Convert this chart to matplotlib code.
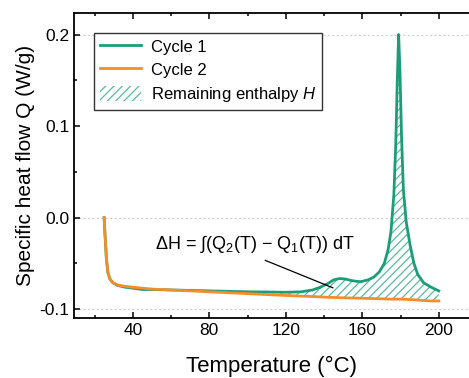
import numpy as np
import matplotlib
matplotlib.use("Agg")
import matplotlib.pyplot as plt
from matplotlib.ticker import MultipleLocator, FormatStrFormatter

plt.rcParams['font.family'] = ['Liberation Sans', 'DejaVu Sans']
plt.rcParams['mathtext.fontset'] = 'custom'
plt.rcParams['mathtext.rm'] = 'Liberation Sans'
plt.rcParams['mathtext.it'] = 'Liberation Sans:italic'
plt.rcParams['axes.unicode_minus'] = False
plt.rcParams['hatch.linewidth'] = 0.9

# temperature grid (°C) shared by both cycles
temp = [25.0, 25.5, 26.2, 27.0, 28.0, 29.5, 32, 36, 40, 45, 50, 60, 70, 80, 90,
        100, 110, 120, 128, 134, 138, 142, 145, 148, 151, 155, 159, 163, 166,
        169, 171.5, 173.5, 175, 176.5, 177.5, 178.3, 179.0, 179.7, 180.5, 181.5,
        183, 185, 187, 189, 192, 196, 200]

cycle1 = [0.000, -0.020, -0.045, -0.060, -0.067, -0.071, -0.074, -0.076, -0.077,
          -0.0785, -0.0785, -0.079, -0.0795, -0.080, -0.0805, -0.081, -0.0812,
          -0.0815, -0.081, -0.079, -0.076, -0.072, -0.068, -0.0665, -0.067,
          -0.069, -0.070, -0.068, -0.065, -0.059, -0.050, -0.035, -0.015, 0.025,
          0.080, 0.150, 0.200, 0.160, 0.090, 0.030, -0.005, -0.030, -0.050,
          -0.062, -0.071, -0.076, -0.080]

cycle2 = [0.000, -0.020, -0.045, -0.060, -0.067, -0.071, -0.0735, -0.075, -0.076,
          -0.077, -0.078, -0.079, -0.080, -0.081, -0.082, -0.083, -0.084, -0.085,
          -0.0857, -0.0862, -0.0866, -0.087, -0.0872, -0.0874, -0.0876, -0.0878,
          -0.088, -0.0882, -0.0884, -0.0886, -0.0888, -0.0889, -0.089, -0.089,
          -0.089, -0.089, -0.089, -0.089, -0.089, -0.0892, -0.0893, -0.0895,
          -0.0897, -0.090, -0.0905, -0.091, -0.091]

green = '#1b9e77'
orange = '#f28e2b'

T = np.array(temp)
q1 = np.array(cycle1)
q2 = np.array(cycle2)

fig = plt.figure(figsize=(4.69, 3.78), dpi=100)
ax = fig.add_axes([0.158, 0.159, 0.842, 0.807])

for yv in [0.2, 0.0, -0.1]:
    ax.axhline(yv, color='#d0d0d0', lw=0.8, ls=(0, (2, 2)), zorder=0)

ax.fill_between(T, q2, q1, where=T >= 120, interpolate=True, facecolor='none',
                edgecolor='#5fb99f', hatch='////', linewidth=0,
                label='Remaining enthalpy $H$')
ax.plot(T, q1, color=green, lw=2.0, label='Cycle 1')
ax.plot(T, q2, color=orange, lw=2.0, label='Cycle 2')

# annotation: formula plus leader line into the hatched area
ax.text(104, -0.0285, 'ΔH = ∫(Q$_2$(T) − Q$_1$(T)) dT', ha='center',
        va='center', fontsize=13)
ax.annotate('', xy=(144.7, -0.0767), xytext=(109.2, -0.0466),
            arrowprops=dict(arrowstyle='-', color='black', lw=0.9,
                            shrinkA=0, shrinkB=0))

ax.set_xlim(9.3, 215.8)
ax.set_ylim(-0.1095, 0.2237)
ax.xaxis.set_major_locator(MultipleLocator(40))
ax.xaxis.set_minor_locator(MultipleLocator(20))
ax.yaxis.set_major_locator(MultipleLocator(0.1))
ax.yaxis.set_minor_locator(MultipleLocator(0.05))
ax.yaxis.set_major_formatter(FormatStrFormatter('%.1f'))
ax.tick_params(which='both', direction='in', top=True, right=False,
               labelsize=12.5, width=1.1)
ax.tick_params(which='major', length=4.5)
ax.tick_params(which='minor', length=2.5)
ax.spines['right'].set_visible(False)
for s in ['left', 'bottom', 'top']:
    ax.spines[s].set_linewidth(1.3)

ax.set_xlabel('Temperature (°C)', fontsize=16, labelpad=13)
ax.set_ylabel('Specific heat flow Q (W/g)', fontsize=15, labelpad=3)

h, l = ax.get_legend_handles_labels()
order = [1, 2, 0]
leg = ax.legend([h[i] for i in order], [l[i] for i in order], loc='upper left',
                bbox_to_anchor=(0.05, 0.935), fontsize=12, fancybox=False,
                edgecolor='#333333', framealpha=1, handlelength=2.5,
                handleheight=1.0, borderpad=0.35, labelspacing=0.42,
                handletextpad=0.55, borderaxespad=0)
leg.get_frame().set_linewidth(1.0)

fig.savefig('out.png', dpi=100)
